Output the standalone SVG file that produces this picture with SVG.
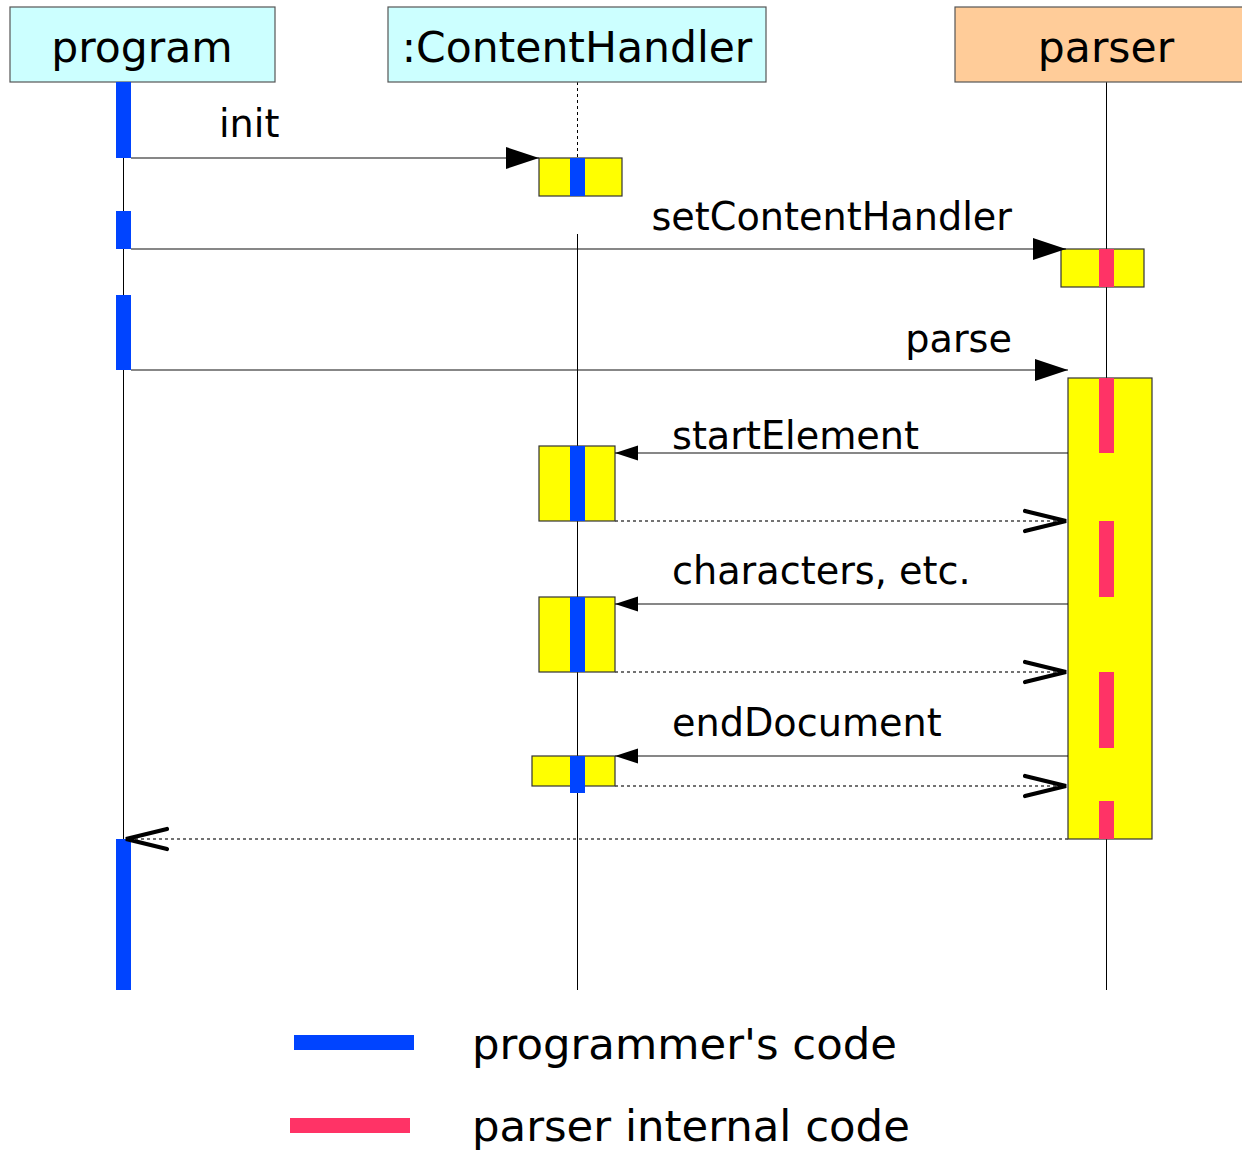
<svg xmlns="http://www.w3.org/2000/svg" width="1242" height="1151" viewBox="0 0 1242 1151">
  <style>
    text { font-family: "DejaVu Sans", "Liberation Sans", sans-serif; fill: #000; }
    .head { font-size: 42.5px; text-anchor: middle; }
    .msg { font-size: 38.2px; }
    .legend { font-size: 43.4px; }
    .obj { stroke: #555; stroke-width: 1.2; }
    .life { stroke: #000; stroke-width: 1; fill: none; }
    .act { fill: #ffff00; stroke: #333; stroke-width: 1.2; }
    .prog { fill: #0044ff; }
    .internal { fill: #ff3366; }
    .call { stroke: #111; stroke-width: 1.2; fill: none; }
    .ret { stroke: #444; stroke-width: 1.3; stroke-dasharray: 3 3; fill: none; }
    .chev { stroke: #000; stroke-width: 4.2; fill: none; stroke-linecap: round; }
  </style>
  <defs>
    <marker id="bigHead" markerUnits="userSpaceOnUse" markerWidth="34" markerHeight="24" refX="33" refY="11" orient="auto">
      <path d="M0,0 L33,11 L0,22 Z" fill="#000"/>
    </marker>
    <marker id="smallHead" markerUnits="userSpaceOnUse" markerWidth="24" markerHeight="16" refX="23" refY="7.5" orient="auto">
      <path d="M0,0 L23,7.5 L0,15 Z" fill="#000"/>
    </marker>
  </defs>

  <!-- lifelines -->
  <g id="lifelines">
    <line class="life" x1="123.5" y1="158" x2="123.5" y2="839"/>
    <line class="life" x1="577.5" y1="82" x2="577.5" y2="158" stroke-dasharray="3 3"/>
    <line class="life" x1="577.5" y1="234" x2="577.5" y2="990"/>
    <line class="life" x1="1106.5" y1="82" x2="1106.5" y2="990"/>
  </g>

  <!-- participants -->
  <g id="program">
    <rect class="obj" x="10" y="7" width="265" height="75" fill="#ccffff"/>
    <text class="head" x="142" y="62">program</text>
    <rect class="prog" x="116" y="82" width="15" height="76"/>
    <rect class="prog" x="116" y="211" width="15" height="38"/>
    <rect class="prog" x="116" y="295" width="15" height="75"/>
    <rect class="prog" x="116" y="839" width="15" height="151"/>
  </g>

  <g id="contentHandler">
    <rect class="obj" x="388" y="7" width="378" height="75" fill="#ccffff"/>
    <text class="head" x="577" y="62">:ContentHandler</text>
    <rect class="act" x="539" y="158" width="83" height="38"/>
    <rect class="prog" x="570" y="158" width="15" height="38"/>
    <rect class="act" x="539" y="446" width="76" height="75"/>
    <rect class="prog" x="570" y="446" width="15" height="75"/>
    <rect class="act" x="539" y="597" width="76" height="75"/>
    <rect class="prog" x="570" y="597" width="15" height="75"/>
    <rect class="act" x="532" y="756" width="83" height="30"/>
    <rect class="prog" x="570" y="756" width="15" height="37"/>
  </g>

  <g id="parser">
    <rect class="obj" x="955" y="7" width="290" height="75" fill="#ffcc99"/>
    <text class="head" x="1106" y="62">parser</text>
    <rect class="act" x="1061" y="249" width="83" height="38"/>
    <rect class="internal" x="1099" y="249" width="15" height="38"/>
    <rect class="act" x="1068" y="378" width="84" height="461"/>
    <rect class="internal" x="1099" y="378" width="15" height="75"/>
    <rect class="internal" x="1099" y="521" width="15" height="76"/>
    <rect class="internal" x="1099" y="672" width="15" height="76"/>
    <rect class="internal" x="1099" y="801" width="15" height="38"/>
  </g>

  <!-- messages -->
  <g id="connectors">
    <line class="call" x1="131" y1="158" x2="539" y2="158" marker-end="url(#bigHead)"/>
    <line class="call" x1="131" y1="249" x2="1066" y2="249" marker-end="url(#bigHead)"/>
    <line class="call" x1="131" y1="370" x2="1068" y2="370" marker-end="url(#bigHead)"/>

    <line class="call" x1="1068" y1="453" x2="615" y2="453" marker-end="url(#smallHead)"/>
    <line class="ret" x1="615" y1="521" x2="1066" y2="521"/>
    <polyline class="chev" points="1025,511 1066,521 1025,531"/>

    <line class="call" x1="1068" y1="604" x2="615" y2="604" marker-end="url(#smallHead)"/>
    <line class="ret" x1="615" y1="672" x2="1066" y2="672"/>
    <polyline class="chev" points="1025,662 1066,672 1025,682"/>

    <line class="call" x1="1068" y1="756" x2="615" y2="756" marker-end="url(#smallHead)"/>
    <line class="ret" x1="615" y1="786" x2="1066" y2="786"/>
    <polyline class="chev" points="1025,776 1066,786 1025,796"/>

    <line class="ret" x1="1068" y1="839" x2="126" y2="839"/>
    <polyline class="chev" points="167,829 126,839 167,849"/>
  </g>

  <!-- message labels -->
  <g id="labels">
    <text class="msg" x="219" y="137">init</text>
    <text class="msg" x="1012" y="230" text-anchor="end">setContentHandler</text>
    <text class="msg" x="1012" y="352" text-anchor="end">parse</text>
    <text class="msg" x="672" y="449">startElement</text>
    <text class="msg" x="672" y="584">characters, etc.</text>
    <text class="msg" x="672" y="736">endDocument</text>
  </g>

  <!-- legend -->
  <g id="legend">
    <rect class="prog" x="294" y="1035" width="120" height="15"/>
    <text class="legend" x="472" y="1059">programmer's code</text>
    <rect class="internal" x="290" y="1118" width="120" height="15"/>
    <text class="legend" x="472" y="1141">parser internal code</text>
  </g>
</svg>
